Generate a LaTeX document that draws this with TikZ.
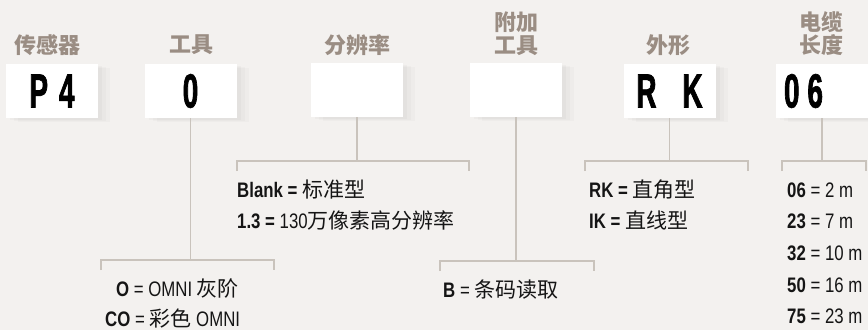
\documentclass[tikz,border=0pt]{standalone}
\usepackage{fontspec}
\setmainfont{Liberation Sans}[FakeStretch=0.8]
\newfontfamily\cjk{Noto Sans CJK SC}
\newfontfamily\boxfont{Liberation Sans Bold}[FakeStretch=0.58,FakeBold=1.4]
\usetikzlibrary{shadows}
\definecolor{bg}{HTML}{F3F1EF}
\definecolor{lbl}{HTML}{9A8D83}
\definecolor{ln}{HTML}{C9C3BC}
\definecolor{txt}{HTML}{151515}
\begin{document}
\begin{tikzpicture}[x=1pt,y=-1pt,
  lab/.style={font=\cjk\bfseries\fontsize{22}{23}\selectfont, text=lbl, align=center, inner sep=0pt},
  codebox/.style={fill=white, minimum width=92pt, minimum height=54pt, inner sep=0pt,
    font=\boxfont\fontsize{48}{48}\selectfont, text=black,
    general shadow={fill=black, opacity=0.02, shadow xshift=12pt, shadow yshift=-4pt},
    general shadow={fill=black, opacity=0.02, shadow xshift=8pt, shadow yshift=-3pt},
    general shadow={fill=black, opacity=0.025, shadow xshift=4pt, shadow yshift=-2pt}},
  conn/.style={draw=ln, line width=1.8pt},
  entry/.style={anchor=base west, inner sep=0pt, font=\fontsize{21}{24}\selectfont, text=txt},
]
\fill[bg] (0,0) rectangle (868,330);
\useasboundingbox (0,0) rectangle (868,330);
\clip (0,0) rectangle (868,330);

% labels
\node[lab] (l1) at (47.5,45) {传感器};
\node[lab] (l2) at (191,45) {工具};
\node[lab] (l3) at (357,45) {分辨率};
\node[lab] (l4) at (516,33.5) {附加\\工具};
\node[lab] (l5) at (668,45) {外形};
\node[lab] (l6) at (821,33.5) {电缆\\长度};

% boxes
\node[codebox] (b1) at (52,91) {P\hspace{11pt}4};
\node[codebox] (b2) at (190.5,91) {0};
\node[codebox] (b3) at (357,90) {};
\node[codebox] (b4) at (516,90) {};
\node[codebox] (b5) at (669.5,91) {R\hspace{26pt}K};
\node[codebox, text width=92pt, align=left] (b6) at (822,91) {\hspace{8pt}0\hspace{8pt}6};

% connector ends
\coordinate (c2) at (190.5,260);
\coordinate (c3) at (357,161);
\coordinate (c4) at (516,261);
\coordinate (c5) at (669.5,161);
\coordinate (c6) at (822,161);

\draw[conn] (b2.south) -- (c2);
\draw[conn] (101,270) -- (101,260) -- (274,260) -- (274,270);
\draw[conn] (b3.south) -- (c3);
\draw[conn] (237,171) -- (237,161) -- (469,161) -- (469,171);
\draw[conn] (b4.south) -- (c4);
\draw[conn] (440,271) -- (440,261) -- (594,261) -- (594,271);
\draw[conn] (b5.south) -- (c5);
\draw[conn] (585,171) -- (585,161) -- (748,161) -- (748,171);
\draw[conn] (b6.south) -- (c6);
\draw[conn] (782,171) -- (782,161) -- (866,161) -- (866,171);

% entries
\node[entry] (e31) at (237,197) {\textbf{Blank =} {\cjk 标准型}};
\node[entry] (e32) at (237,228) {\textbf{1.3 =} 130{\cjk 万像素高分辨率}};

\node[entry] (e21) at (116,296) {\textbf{O} = OMNI {\cjk 灰阶}};
\node[entry] (e22) at (105,326) {\textbf{CO} = {\cjk 彩色} OMNI};

\node[entry] (e41) at (443,297) {\textbf{B} = {\cjk 条码读取}};

\node[entry] (e51) at (589,197) {\textbf{RK =} {\cjk 直角型}};
\node[entry] (e52) at (589,228) {\textbf{IK =} {\cjk 直线型}};

\node[entry] (e61) at (787,197) {\textbf{06} = 2 m};
\node[entry] (e62) at (787,228) {\textbf{23} = 7 m};
\node[entry] (e63) at (787,260) {\textbf{32} = 10 m};
\node[entry] (e64) at (787,292) {\textbf{50} = 16 m};
\node[entry] (e65) at (787,323) {\textbf{75} = 23 m};
\end{tikzpicture}
\end{document}
